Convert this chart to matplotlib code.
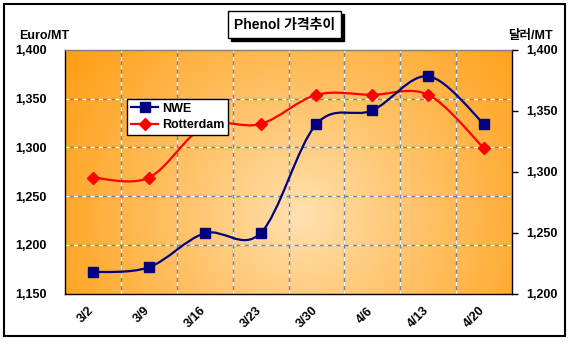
import numpy as np
import matplotlib
matplotlib.use("Agg")
import matplotlib.pyplot as plt
import matplotlib.transforms as mtransforms
from matplotlib.path import Path
from matplotlib.patches import PathPatch, Rectangle

# data
dates = ["3/2", "3/9", "3/16", "3/23", "3/30", "4/6", "4/13", "4/20"]
nwe = [1172, 1177, 1212, 1212, 1324, 1338, 1373, 1324]
rotterdam = [1269, 1269, 1322, 1324, 1354, 1354, 1354, 1299]
left_ticks = [1150, 1200, 1250, 1300, 1350, 1400]
right_ticks = [1200, 1250, 1300, 1350, 1400]

fonts = ["Liberation Sans", "Noto Sans CJK KR", "DejaVu Sans"]
plt.rcParams["font.family"] = fonts
plt.rcParams["font.weight"] = "bold"

W, H = 571, 343
fig = plt.figure(figsize=(W / 100, H / 100), dpi=100)

# outer frame
fig.patches.append(Rectangle((4 / W, 1 - 336 / H), 561 / W, 332 / H, transform=fig.transFigure,
                             fill=False, edgecolor="black", lw=1.5))

x0, x1, y0, y1 = 65, 512, 50, 293.6
ax = fig.add_axes([x0 / W, 1 - y1 / H, (x1 - x0) / W, (y1 - y0) / H])
ax.set_xlim(-0.5, len(dates) - 0.5)
ax.set_ylim(1150, 1400)

# radial orange background
nx, ny = 300, 160
u = np.linspace(0, 1, nx)
v = np.linspace(0, 1, ny)
U, V = np.meshgrid(u, v)
r = np.sqrt(((U - 0.53) * 447) ** 2 + ((V - 0.32) * 244) ** 2) / 275
t = np.clip(r, 0, 1) ** 0.9
c_in = np.array([255, 226, 178]) / 255
c_out = np.array([255, 160, 25]) / 255
img = c_in[None, None, :] * (1 - t[..., None]) + c_out[None, None, :] * t[..., None]
ax.imshow(img, extent=[-0.5, len(dates) - 0.5, 1150, 1400], origin="lower",
          aspect="auto", zorder=0, interpolation="bilinear")

# grid: gray with white dashes
for yv in left_ticks[1:-1]:
    ax.axhline(yv, color="#808080", lw=1, zorder=1)
    ax.axhline(yv, color="white", lw=1, ls=(0, (3, 3)), zorder=1)
for xv in np.arange(0.5, len(dates) - 0.5):
    ax.axvline(xv, color="#808080", lw=1, zorder=1)
    ax.axvline(xv, color="white", lw=1, ls=(0, (3, 3)), zorder=1)


def smooth(ax, xs, ys, color):
    pts = np.column_stack([xs, ys]).astype(float)
    n = len(pts)
    verts = [pts[0]]
    codes = [Path.MOVETO]
    for i in range(n - 1):
        p_prev = pts[max(i - 1, 0)]
        p_next2 = pts[min(i + 2, n - 1)]
        c1 = pts[i] + (pts[i + 1] - p_prev) / 6
        c2 = pts[i + 1] - (p_next2 - pts[i]) / 6
        verts += [c1, c2, pts[i + 1]]
        codes += [Path.CURVE4] * 3
    ax.add_patch(PathPatch(Path(verts, codes), fill=False, edgecolor=color, lw=1.6, zorder=3))


xs = np.arange(len(dates))
smooth(ax, xs, rotterdam, "#FF0000")
smooth(ax, xs, nwe, "#000080")
ax.plot(xs, rotterdam, ls="none", marker="D", ms=6, color="#FF0000", zorder=4)
ax.plot(xs, nwe, ls="none", marker="s", ms=6.5, color="#000080", zorder=5)
h1, = ax.plot([], [], color="#000080", marker="s", ms=6.5, lw=1.6)
h2, = ax.plot([], [], color="#FF0000", marker="D", ms=6, lw=1.6)

leg = ax.legend([h1, h2], ["NWE", "Rotterdam"], loc="upper left",
                bbox_to_anchor=((127 - x0) / (x1 - x0), 1 - (99 - y0) / (y1 - y0)),
                frameon=True, fancybox=False, framealpha=1, edgecolor="black",
                borderpad=0.3, handlelength=2.2, handletextpad=0.3, labelspacing=0.35,
                borderaxespad=0, prop={"size": 9, "weight": "bold"})
leg.get_frame().set_linewidth(1)
leg.set_zorder(10)

ax.set_yticks(left_ticks)
ax.set_yticklabels([f"{v:,}" for v in left_ticks], fontsize=9)
ax.tick_params(axis="y", length=0, pad=13)
ax.set_xticks(xs)
ax.set_xticklabels(dates, rotation=45, ha="right", va="top", fontsize=9,
                   rotation_mode="anchor")
ax.tick_params(axis="x", length=0, pad=8)
shift = mtransforms.ScaledTranslation(-5 / 100, 0, fig.dpi_scale_trans)
for lbl in ax.get_xticklabels():
    lbl.set_transform(lbl.get_transform() + shift)
for s in ax.spines.values():
    s.set_color("black")
    s.set_linewidth(1)
ax.spines["top"].set_color("#808080")

ax2 = ax.twinx()
ax2.set_ylim(1200, 1400)
ax2.set_yticks(right_ticks)
ax2.set_yticklabels([f"{v:,}" for v in right_ticks], fontsize=9)
ax2.tick_params(axis="y", length=4, width=1, direction="out", pad=6)
for s in ax2.spines.values():
    s.set_visible(False)

fig.text(19 / W, 1 - 36 / H, "Euro/MT", fontsize=9, va="center", ha="left")
fig.text(553 / W, 1 - 36 / H, "달러/MT", fontsize=9, va="center", ha="right")

# title box with shadow
fig.patches.append(Rectangle((231 / W, 1 - 41 / H), 113 / W, 27 / H, transform=fig.transFigure,
                             facecolor="black", edgecolor="black", lw=1))
fig.patches.append(Rectangle((228 / W, 1 - 38 / H), 113 / W, 27 / H, transform=fig.transFigure,
                             facecolor="white", edgecolor="black", lw=1))
fig.text(284.5 / W, 1 - 24.5 / H, "Phenol 가격추이", fontsize=10, ha="center", va="center")

fig.savefig("out.png", dpi=100)
